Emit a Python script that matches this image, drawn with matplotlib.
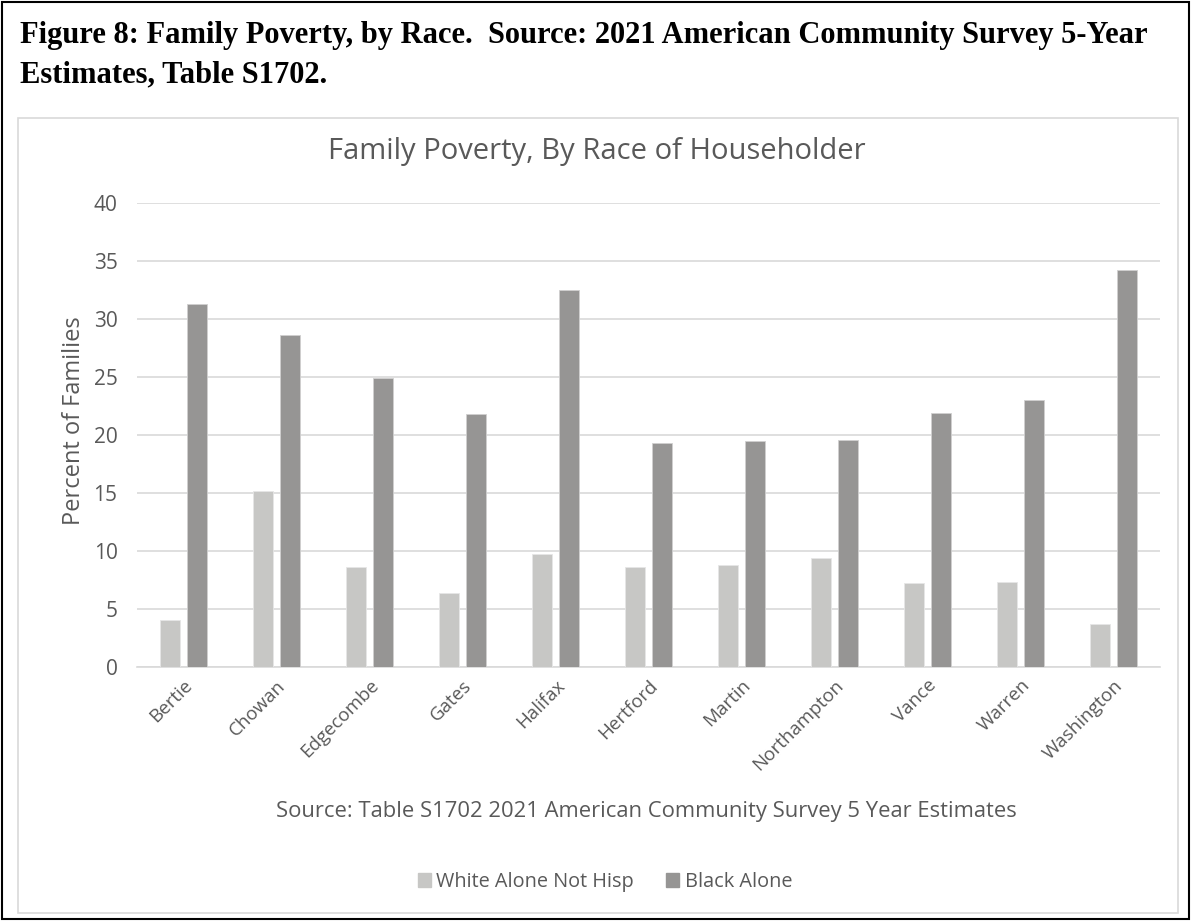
import numpy as np
import matplotlib
matplotlib.use("Agg")
import matplotlib.pyplot as plt
from matplotlib.patches import Rectangle, Patch

counties = ["Bertie", "Chowan", "Edgecombe", "Gates", "Halifax", "Hertford",
            "Martin", "Northampton", "Vance", "Warren", "Washington"]
white_alone = [4.0, 15.2, 8.6, 6.4, 9.7, 8.6, 8.8, 9.4, 7.2, 7.3, 3.7]
black_alone = [31.3, 28.6, 24.9, 21.8, 32.5, 19.3, 19.5, 19.6, 21.9, 23.0, 34.2]
yticks = [0, 5, 10, 15, 20, 25, 30, 35, 40]

txt = "#595959"
plt.rcParams['font.family'] = ['Open Sans', 'DejaVu Sans']

fig = plt.figure(figsize=(11.91, 9.21), dpi=100)

# outer frame and chart frame
fig.patches.append(Rectangle((0.002, 0.002), 0.996, 0.996, transform=fig.transFigure,
                             fill=False, edgecolor="black", linewidth=1.5))
fig.patches.append(Rectangle((18 / 1191, 1 - 913 / 921), 1160 / 1191, 795 / 921,
                             transform=fig.transFigure, fill=False,
                             edgecolor="#d9d9d9", linewidth=1.2))

fig.text(20 / 1191, 1 - 35 / 921, "Figure 8: Family Poverty, by Race.  Source: 2021 American Community Survey 5-Year",
         family="Liberation Serif", weight="bold", fontsize=22, va="center", ha="left")
fig.text(20 / 1191, 1 - 75 / 921, "Estimates, Table S1702.",
         family="Liberation Serif", weight="bold", fontsize=22, va="center", ha="left")

ax = fig.add_axes([137 / 1191, 1 - 666.7 / 921, 1023 / 1191, 463.4 / 921])
x = np.arange(len(counties))
w = 0.215
ax.bar(x - 0.145, white_alone, w, color="#c7c7c5", edgecolor="#e6e6e6", linewidth=0.6,
       label="White Alone Not Hisp", zorder=3)
ax.bar(x + 0.145, black_alone, w, color="#969594", edgecolor="#d0d0d0", linewidth=0.6,
       label="Black Alone", zorder=3)

ax.set_xlim(-0.5, len(counties) - 0.5)
ax.set_ylim(0, 40)
ax.set_yticks(yticks)
ax.grid(axis="y", color="#d9d9d9", linewidth=1.2, zorder=0)
for s in ["top", "right", "left"]:
    ax.spines[s].set_visible(False)
ax.spines["bottom"].set_color("#d9d9d9")
ax.spines["bottom"].set_linewidth(1.2)
ax.tick_params(length=0, colors=txt)
ax.tick_params(axis="y", pad=14, labelsize=15)
ax.set_xticks(x)
ax.set_xticklabels(counties, rotation=45, ha="right", rotation_mode="anchor")
ax.tick_params(axis="x", pad=7, labelsize=13.5)
ax.set_ylabel("Percent of Families", color=txt, fontsize=17)
ax.yaxis.set_label_coords(-0.05, 0.532)

fig.text(597 / 1191, 1 - 152 / 921, "Family Poverty, By Race of Householder",
         color=txt, fontsize=21, ha="center", va="center")
fig.text(646 / 1191, 1 - 812 / 921, "Source: Table S1702 2021 American Community Survey 5 Year Estimates",
         color=txt, fontsize=15.8, ha="center", va="center")

handles = [Patch(color="#c7c7c5"), Patch(color="#969594")]
fig.legend(handles, ["White Alone Not Hisp", "Black Alone"], loc="center",
           bbox_to_anchor=(605 / 1191, 1 - 882 / 921), ncol=2, frameon=False,
           fontsize=14.3, handlelength=0.65, handleheight=0.65, handletextpad=0.3,
           columnspacing=1.6, labelcolor=txt)

fig.savefig("out.png", dpi=100)
